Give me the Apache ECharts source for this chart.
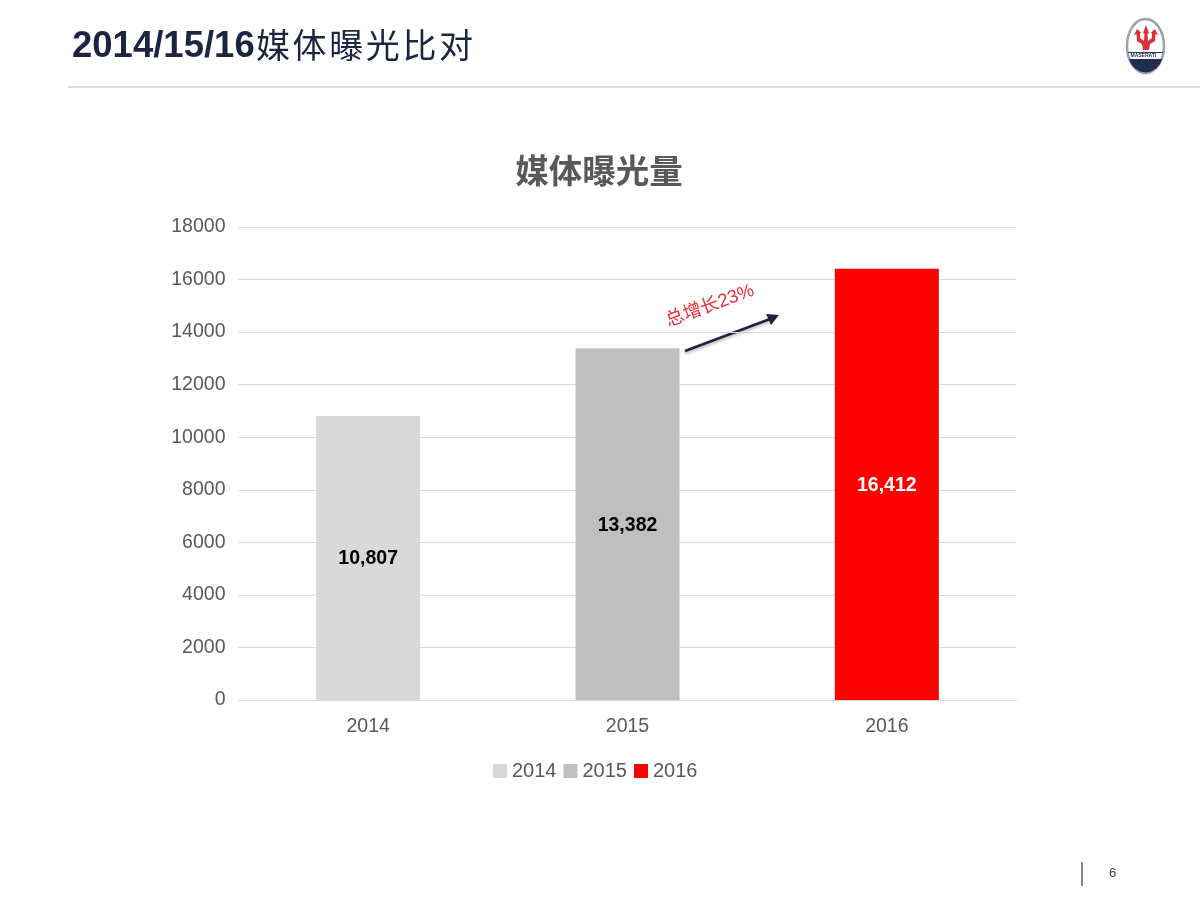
<!DOCTYPE html>
<html lang="zh-CN">
<head>
    <meta charset="UTF-8">
    <title>媒体曝光比对</title>
    <style>
        html, body { margin: 0; padding: 0; background: #fff; }
        #chart { width: 1200px; height: 900px; }
    </style>
    <script src="https://cdn.jsdelivr.net/npm/echarts@6/dist/echarts.min.js"></script>
</head>
<body>
    <div id="chart"></div>
    <script>
        const categories = ['2014', '2015', '2016'];
        const values2014 = [10807, null, null];
        const values2015 = [null, 13382, null];
        const values2016 = [null, null, 16412];
        const yTicks = { min: 0, max: 18000, interval: 2000 };
        const titleCjk = ['媒', '体', '曝', '光', '比', '对'];

        const FONT = '"Liberation Sans", Arial, "Noto Sans CJK SC", sans-serif';
        const GREY = '#595959';
        const NAVY = '#1b2542';

        function makeSeries(name, data, color, labelColor) {
            return {
                name: name,
                type: 'bar',
                stack: 'year',
                barWidth: 104,
                data: data,
                itemStyle: { color: color },
                label: {
                    show: true,
                    position: 'inside',
                    offset: [0, 1],
                    color: labelColor,
                    fontFamily: FONT,
                    fontSize: 19.5,
                    fontWeight: 'bold',
                    formatter: p => p.value.toLocaleString('en-US')
                }
            };
        }

        // 页眉:标题、分隔线
        const headerGraphics = [
            {
                type: 'text', left: 72, top: 29,
                style: { text: '2014/15/16', fill: NAVY, font: 'bold 36.5px ' + FONT }
            },
            ...titleCjk.map((ch, i) => ({
                type: 'text', left: 256 + i * 36.6, top: 28,
                style: { text: ch, fill: NAVY, font: '34px "Noto Sans CJK SC", sans-serif' }
            })),
            {
                type: 'line',
                shape: { x1: 68, y1: 87, x2: 1200, y2: 87 },
                style: { stroke: '#d0d0d0', lineWidth: 1.5 }
            }
        ];

        // 右上角徽标
        const logoGraphics = [
            {
                type: 'ellipse',
                shape: { cx: 1145.5, cy: 46, rx: 18.5, ry: 27 },
                style: { fill: '#fff', stroke: '#9aa0ad', lineWidth: 2.5 }
            },
            {
                type: 'polygon',
                shape: {
                    points: [[1146, 25], [1149, 33], [1147.5, 34], [1148, 41], [1152, 38], [1152, 33], [1150.5, 33], [1155, 29], [1158, 35],
                        [1155.5, 34], [1155, 41], [1150, 44], [1149, 50], [1143, 50], [1142, 44], [1137, 41], [1136.5, 34], [1134, 35],
                        [1137, 29], [1141.5, 33], [1140, 33], [1140, 38], [1144, 41], [1144.5, 34], [1143, 33]]
                },
                style: { fill: '#d9303a' }
            },
            {
                type: 'polygon',
                shape: {
                    points: [[1129, 59], [1162, 59], [1160, 64], [1156, 68.5], [1151, 71.5], [1146, 72.5], [1140, 71.5], [1135, 68.5], [1131, 64]]
                },
                style: { fill: '#1f2d50' }
            },
            {
                type: 'line',
                shape: { x1: 1128, y1: 52.5, x2: 1163, y2: 52.5 },
                style: { stroke: '#2b3654', lineWidth: 1 }
            },
            {
                type: 'text', left: 1130.5, top: 53.5,
                style: { text: 'MASERATI', fill: '#1f2d50', font: 'bold 5px ' + FONT }
            }
        ];

        // 增长标注
        const noteGraphics = [
            {
                type: 'text', x: 710, y: 306, rotation: 20 * Math.PI / 180,
                style: {
                    text: '总增长23%', fill: '#e8303a',
                    font: '18.5px ' + FONT,
                    align: 'center', verticalAlign: 'middle'
                }
            },
            {
                type: 'line',
                shape: { x1: 685, y1: 351, x2: 770, y2: 319 },
                style: {
                    stroke: NAVY, lineWidth: 2.5,
                    shadowColor: 'rgba(0,0,0,0.3)', shadowBlur: 3, shadowOffsetY: 2
                }
            },
            {
                type: 'polygon',
                shape: { points: [[779, 315], [766, 314], [771, 325]] },
                style: { fill: NAVY }
            }
        ];

        // 页脚
        const footerGraphics = [
            {
                type: 'line',
                shape: { x1: 1082, y1: 862, x2: 1082, y2: 886 },
                style: { stroke: '#8a8a8a', lineWidth: 2 }
            },
            {
                type: 'text', left: 1109, top: 867,
                style: { text: '6', fill: '#404040', font: '13px ' + FONT }
            }
        ];

        const chart = echarts.init(document.getElementById('chart'));
        chart.setOption({
            animation: false,
            backgroundColor: '#fff',
            textStyle: { fontFamily: FONT },
            title: {
                text: '媒体曝光量',
                left: 594,
                textAlign: 'center',
                top: 149,
                textStyle: {
                    color: GREY,
                    fontSize: 33.5,
                    fontWeight: 'bold',
                    fontFamily: '"Noto Sans CJK SC", sans-serif'
                }
            },
            grid: { left: 238.5, right: 183.5, top: 227, bottom: 200 },
            legend: {
                data: categories,
                left: 488,
                top: 756,
                itemWidth: 14,
                itemHeight: 14,
                itemGap: 7,
                icon: 'rect',
                textStyle: { color: GREY, fontSize: 20 }
            },
            xAxis: {
                type: 'category',
                data: categories,
                axisTick: { show: false },
                axisLine: { lineStyle: { color: '#d9d9d9' } },
                axisLabel: { color: GREY, fontSize: 19.5, margin: 17 }
            },
            yAxis: {
                type: 'value',
                min: yTicks.min,
                max: yTicks.max,
                interval: yTicks.interval,
                axisLine: { show: false },
                axisTick: { show: false },
                axisLabel: { color: GREY, fontSize: 19.5, margin: 13, padding: [3, 0, 0, 0], formatter: v => String(v) },
                splitLine: { lineStyle: { color: '#d9d9d9' } }
            },
            series: [
                makeSeries('2014', values2014, '#d9d9d9', '#000'),
                makeSeries('2015', values2015, '#bfbfbf', '#000'),
                makeSeries('2016', values2016, '#ff0000', '#fff')
            ],
            graphic: [...headerGraphics, ...logoGraphics, ...noteGraphics, ...footerGraphics]
        });
    </script>
</body>
</html>
